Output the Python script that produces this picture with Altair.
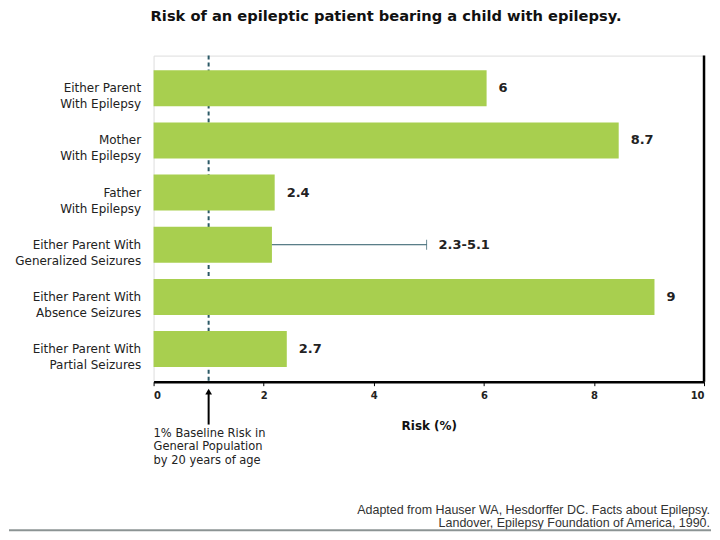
import altair as alt
import pandas as pd

categories = [
    "Either Parent|With Epilepsy",
    "Mother|With Epilepsy",
    "Father|With Epilepsy",
    "Either Parent With|Generalized Seizures",
    "Either Parent With|Absence Seizures",
    "Either Parent With|Partial Seizures",
]
bar_values = [6.05, 8.45, 2.2, 2.15, 9.1, 2.42]
value_labels = ["6", "8.7", "2.4", "2.3-5.1", "9", "2.7"]
err_high = [None, None, None, 4.96, None, None]
baseline = 1
x_ticks = [0, 2, 4, 6, 8, 10]

title_text = "Risk of an epileptic patient bearing a child with epilepsy."
note_text = "1% Baseline Risk in|General Population|by 20 years of age"
cite_lines = [
    "Adapted from Hauser WA, Hesdorffer DC. Facts about Epilepsy.",
    "Landover, Epilepsy Foundation of America, 1990.",
]

GREEN = "#a8cf4f"
TEAL = "#2b5966"
FONT = "DejaVu Sans"
W, H = 552, 327

df = pd.DataFrame({
    "cat": categories,
    "value": bar_values,
    "label": value_labels,
    "err": err_high,
})
df["label_x"] = [e if pd.notna(e) else v for v, e in zip(bar_values, err_high)]

xscale = alt.Scale(domain=[0, 10], nice=False, zero=True)
yscale = alt.Scale(domain=categories, paddingInner=0.31, paddingOuter=0.28)

base = alt.Chart(df)

dashed = alt.Chart(pd.DataFrame({"b": [baseline]})).mark_rule(
    color=TEAL, strokeWidth=2, strokeDash=[4, 3]
).encode(x=alt.X("b:Q", scale=xscale))

bars = base.mark_bar(color=GREEN).encode(
    x=alt.X(
        "value:Q",
        scale=xscale,
        axis=alt.Axis(
            values=x_ticks,
            title="Risk (%)",
            titleFont=FONT,
            titleFontSize=12,
            titleFontWeight="bold",
            titleColor="#111",
            titlePadding=20,
            labelFont=FONT,
            labelFontSize=10,
            labelFontWeight="bold",
            labelColor="#222",
            labelPadding=5,
            tickColor="#000",
            tickSize=4,
            domainColor="#000",
            domainWidth=2.5,
            grid=False,
        ),
    ),
    y=alt.Y(
        "cat:N",
        scale=yscale,
        sort=categories,
        axis=alt.Axis(
            title=None,
            labelExpr="split(datum.value, '|')",
            labelFont=FONT,
            labelFontSize=12,
            labelColor="#222",
            labelLineHeight=16,
            labelPadding=13,
            ticks=False,
            domain=False,
        ),
    ),
)

errs = base.transform_filter("isValid(datum.err)").mark_rule(
    color=TEAL, strokeWidth=1
).encode(
    x=alt.X("value:Q", scale=xscale),
    x2="err:Q",
    y=alt.Y("cat:N", scale=yscale, sort=categories),
)

err_tick = base.transform_filter("isValid(datum.err)").mark_tick(
    color=TEAL, orient="vertical", size=10, thickness=1
).encode(
    x=alt.X("err:Q", scale=xscale),
    y=alt.Y("cat:N", scale=yscale, sort=categories),
)

labels = base.mark_text(
    align="left", dx=12, font=FONT, fontSize=13, fontWeight="bold", color="#222"
).encode(
    x=alt.X("label_x:Q", scale=xscale),
    y=alt.Y("cat:N", scale=yscale, sort=categories),
    text="label:N",
)

right_edge = alt.Chart(pd.DataFrame({"r": [10]})).mark_rule(
    color="#000", strokeWidth=2.5
).encode(x=alt.X("r:Q", scale=xscale))

arrow_df = pd.DataFrame({"b": [baseline]})
arrow_line = alt.Chart(arrow_df).mark_rule(color="#000", strokeWidth=2).encode(
    x=alt.X("b:Q", scale=xscale), y=alt.value(H + 12), y2=alt.value(H + 43)
)
arrow_head = alt.Chart(arrow_df).mark_point(
    shape="triangle-up", filled=True, color="#000", size=45, opacity=1
).encode(x=alt.X("b:Q", scale=xscale), y=alt.value(H + 10))

note = alt.Chart(pd.DataFrame({"t": [note_text]})).mark_text(
    align="left", baseline="top", lineBreak="|", lineHeight=14,
    font=FONT, fontSize=11.5, color="#222"
).encode(x=alt.value(0), y=alt.value(H + 46), text="t:N")

cite = alt.Chart(pd.DataFrame({"t": ["|".join(cite_lines)]})).mark_text(
    align="right", baseline="top", lineBreak="|", lineHeight=12.5,
    font="Liberation Sans", fontSize=12.5, color="#333"
).encode(x=alt.value(W + 6), y=alt.value(H + 123), text="t:N")

grey_line = alt.Chart(pd.DataFrame({"g": [0]})).mark_rule(
    color="#8c9494", strokeWidth=2
).encode(x=alt.value(-145), x2=alt.value(W + 7), y=alt.value(H + 149))

chart = alt.layer(
    dashed, bars, errs, err_tick, labels, right_edge,
    arrow_line, arrow_head, note, cite, grey_line
).properties(
    width=W,
    height=H,
    title=alt.TitleParams(
        title_text, anchor="start", frame="group", dx=-3, offset=16,
        baseline="bottom",
        font=FONT, fontSize=14.7, fontWeight="bold", color="#111"
    ),
    padding={"left": 0, "top": 0, "right": 0, "bottom": 0},
).configure_view(stroke="#000", strokeWidth=1.2).configure(background="white")

chart.save("out.html", embed_options={"renderer": "svg", "actions": False})
